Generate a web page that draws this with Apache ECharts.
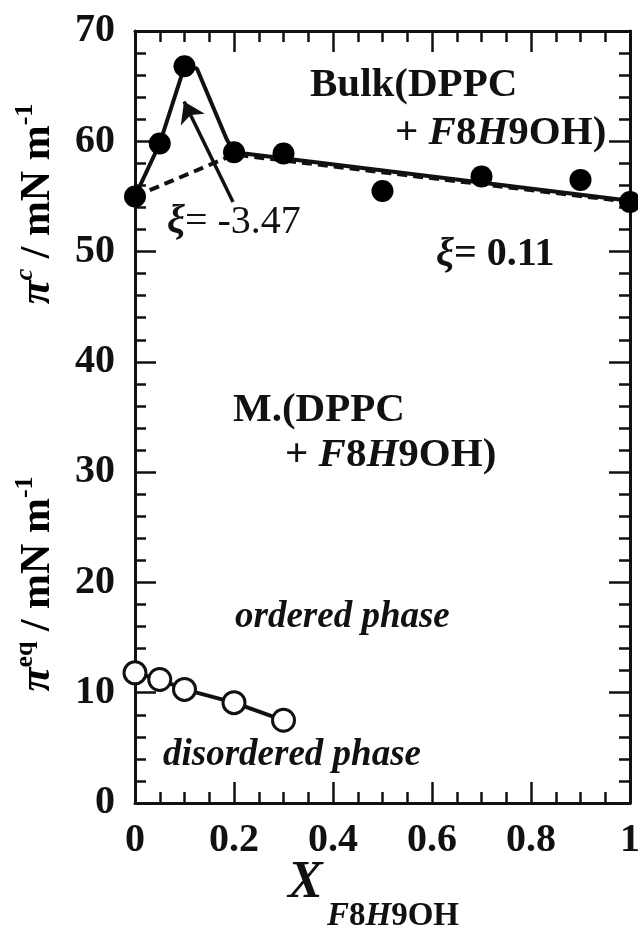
<!DOCTYPE html>
<html>
<head>
<meta charset="utf-8">
<script src="https://cdn.jsdelivr.net/npm/echarts@6/dist/echarts.min.js"></script>
<style>
  html, body { margin: 0; padding: 0; background: #fff; }
  #main { width: 638px; height: 931px; }
</style>
</head>
<body>
<div id="main"></div>
<script>
var FONT = "'Liberation Serif', 'Times New Roman', serif";

// bulk (filled circles)
var bulkX = [0, 0.05, 0.1, 0.2, 0.3, 0.5, 0.7, 0.9, 1];
var bulkPi = [55, 59.8, 66.8, 59.0, 58.9, 55.5, 56.8, 56.5, 54.5];
// monolayer eq. (open circles)
var monoX = [0, 0.05, 0.1, 0.2, 0.3];
var monoPi = [11.8, 11.2, 10.3, 9.1, 7.5];
// fitted curve (solid) and ideal line (dashed)
var fitX = [0, 0.05, 0.1, 0.125, 0.185, 0.2, 1];
var fitPi = [55, 59.8, 66.8, 66.6, 60.2, 59.0, 54.6];
var idealX = [0, 0.2, 1];
var idealPi = [55, 58.8, 54.5];
// arrow pointing at the peak
var arrowFrom = [0.198, 54.5];
var arrowTo = [0.099, 63.6];

function zip(xs, ys) {
    return xs.map(function (x, i) { return [x, ys[i]]; });
}

var dom = document.getElementById('main');
var myChart = echarts.init(dom, null, { renderer: 'canvas' });

function labelStyle(show, margin) {
    return { show: show, margin: margin, fontFamily: FONT, fontWeight: 'bold', fontSize: 40, color: '#111' };
}
function axisParts(split) {
    return {
        axisLine: { show: true, onZero: false, lineStyle: { color: '#111', width: 3 } },
        axisTick: { show: true, inside: true, length: 21, lineStyle: { color: '#111', width: 2.5 } },
        minorTick: { show: true, splitNumber: split, length: 11, lineStyle: { color: '#111', width: 2.5 } },
        splitLine: { show: false },
        minorSplitLine: { show: false }
    };
}

function xAx(pos, showLabel) {
    var a = axisParts(4);
    a.type = 'value'; a.position = pos; a.min = 0; a.max = 1; a.interval = 0.2;
    a.axisLabel = labelStyle(showLabel, 18);
    a.axisLabel.formatter = function (v) { return String(+(+v).toFixed(1)); };
    return a;
}
function yAx(pos, showLabel) {
    var a = axisParts(5);
    a.type = 'value'; a.position = pos; a.min = 0; a.max = 70; a.interval = 10;
    a.axisLabel = labelStyle(showLabel, 20);
    return a;
}

function txt(text, x, y, size, weight, style, rich) {
    return {
        type: 'text', x: x, y: y, z: 100,
        style: {
            text: text, fill: '#111',
            font: (style || 'normal') + ' ' + (weight || 'bold') + ' ' + size + 'px ' + FONT,
            align: 'left', verticalAlign: 'middle',
            textAlign: 'left', textVerticalAlign: 'middle',
            rich: rich
        }
    };
}

var richMix = {
    i: { fontFamily: FONT, fontWeight: 'bold', fontStyle: 'italic', fontSize: 41, color: '#111' },
    n: { fontFamily: FONT, fontWeight: 'bold', fontSize: 41, color: '#111' }
};
var richXi = {
    g: { fontFamily: FONT, fontWeight: 'bold', fontStyle: 'italic', fontSize: 40, color: '#111' },
    r: { fontFamily: FONT, fontWeight: 'normal', fontSize: 40, color: '#111' },
    b: { fontFamily: FONT, fontWeight: 'bold', fontSize: 40, color: '#111' }
};
var richY = {
    p: { fontFamily: FONT, fontWeight: 'bold', fontStyle: 'italic', fontSize: 44, color: '#111', lineHeight: 52 },
    s: { fontFamily: FONT, fontWeight: 'bold', fontStyle: 'italic', fontSize: 26, color: '#111', verticalAlign: 'top', lineHeight: 26 },
    e: { fontFamily: FONT, fontWeight: 'bold', fontSize: 26, color: '#111', verticalAlign: 'top', lineHeight: 26 },
    n: { fontFamily: FONT, fontWeight: 'bold', fontSize: 42, color: '#111', lineHeight: 52 }
};
var richSub = {
    i: { fontFamily: FONT, fontWeight: 'bold', fontStyle: 'italic', fontSize: 33, color: '#111' },
    n: { fontFamily: FONT, fontWeight: 'bold', fontSize: 33, color: '#111' }
};

function yTitle(supTok, sup, cx, cy) {
    return {
        type: 'text', x: cx, y: cy, rotation: Math.PI / 2, z: 100,
        style: {
            text: '{p|π}{' + supTok + '|' + sup + '}{n| / mN m}{e|-1}',
            rich: richY,
            align: 'center', verticalAlign: 'middle',
            textAlign: 'center', textVerticalAlign: 'middle'
        }
    };
}

option = {
    backgroundColor: '#fff',
    animation: false,
    grid: { left: 135, right: 8, top: 31, bottom: 128, containLabel: false, outerBoundsMode: 'none' },
    xAxis: [xAx('bottom', true), xAx('top', false)],
    yAxis: [yAx('left', true), yAx('right', false)],
    series: [
        {
            name: 'ideal', type: 'line', data: zip(idealX, idealPi),
            symbol: 'none', z: 2,
            lineStyle: { color: '#111', width: 4, type: [10, 6] }
        },
        {
            name: 'fit', type: 'line', data: zip(fitX, fitPi),
            symbol: 'none', z: 3,
            lineStyle: { color: '#111', width: 4 },
            markLine: {
                silent: true, symbol: ['none', 'arrow'], symbolSize: 20,
                label: { show: false },
                lineStyle: { color: '#111', width: 3.5, type: 'solid' },
                itemStyle: { color: '#111' },
                data: [[{ coord: arrowFrom }, { coord: arrowTo }]]
            }
        },
        {
            name: 'bulk', type: 'scatter', data: zip(bulkX, bulkPi),
            symbol: 'circle', symbolSize: 22, z: 5,
            itemStyle: { color: '#000', opacity: 1 }
        },
        {
            name: 'mono', type: 'line', data: zip(monoX, monoPi),
            symbol: 'circle', symbolSize: 22, showAllSymbol: true, z: 5,
            lineStyle: { color: '#111', width: 4 },
            itemStyle: { color: '#fff', borderColor: '#111', borderWidth: 3, opacity: 1 }
        }
    ],
    graphic: [
        txt('{n|Bulk(DPPC}', 310, 85, 41, 'bold', 'normal', richMix),
        txt('{n|+ }{i|F}{n|8}{i|H}{n|9OH)}', 395, 133, 41, 'bold', 'normal', richMix),
        txt('{g|ξ}{r|= -3.47}', 167, 222, 40, 'normal', 'normal', richXi),
        txt('{g|ξ}{b|= 0.11}', 436, 255, 40, 'bold', 'normal', richXi),
        txt('{n|M.(DPPC}', 233, 410, 41, 'bold', 'normal', richMix),
        txt('{n|+ }{i|F}{n|8}{i|H}{n|9OH)}', 285, 455, 41, 'bold', 'normal', richMix),
        txt('ordered phase', 235, 617, 37, 'bold', 'italic'),
        txt('disordered phase', 163, 755, 37, 'bold', 'italic'),
        yTitle('s', 'c', 38, 204),
        yTitle('e', 'eq', 38, 584),
        txt('X', 288, 884, 52, 'bold', 'italic'),
        txt('{i|F}{n|8}{i|H}{n|9OH}', 327, 916, 33, 'bold', 'normal', richSub)
    ]
};

if (option && typeof option === "object") {
    myChart.setOption(option, true);
}
</script>
</body>
</html>
